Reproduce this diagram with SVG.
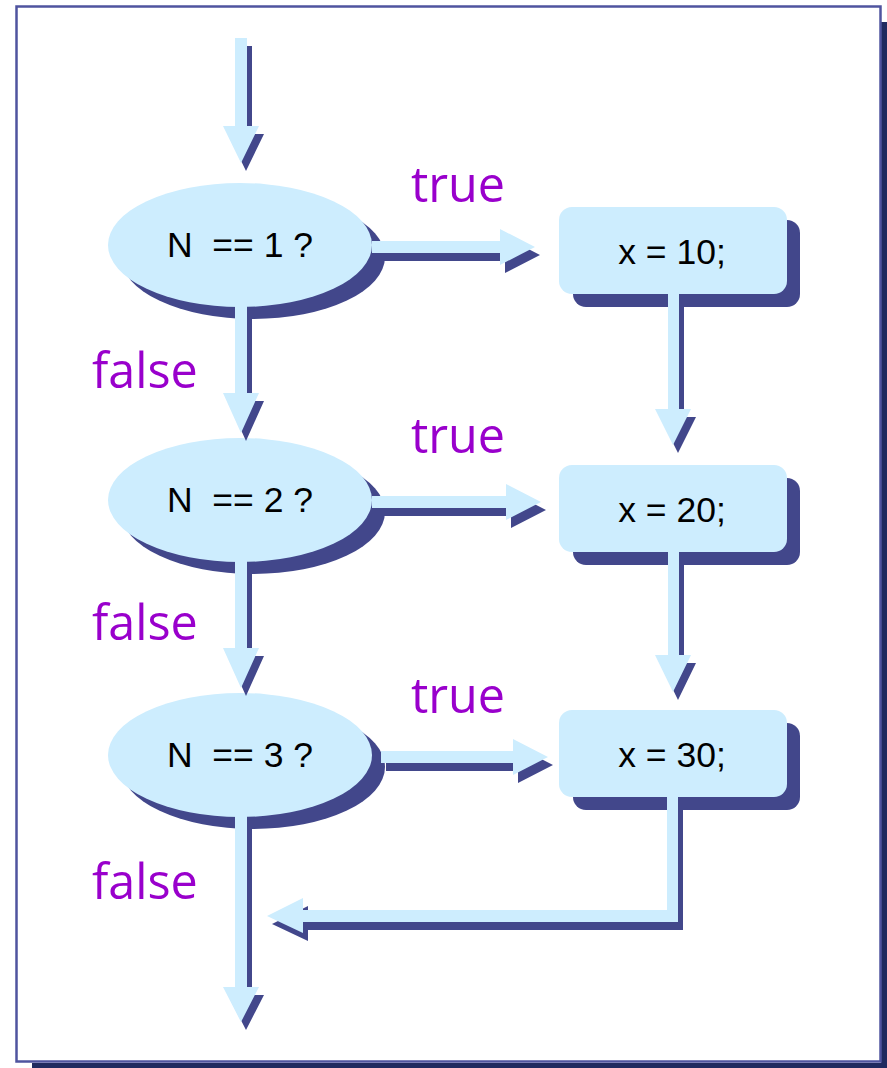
<svg xmlns="http://www.w3.org/2000/svg" xmlns:xlink="http://www.w3.org/1999/xlink" width="887" height="1068" viewBox="0 0 887 1068">
  <style>
    .lt { fill: #cdedfe; }
    .dk { fill: #42478b; }
    .node-text { font-family: "Liberation Sans", Arial, sans-serif; font-size: 35.5px; fill: #000; text-anchor: middle; white-space: pre; }
    .lbl { font-family: "Open Sans", "Noto Sans", sans-serif; font-size: 48.5px; fill: #9900cc; }
  </style>
  <defs>
    <!-- arrow shapes; each is painted twice: dark copy offset as a drop shadow, light copy on top -->
    <polygon id="a-top" points="235,38 247,38 247,126 259,126 241,163 223,126 235,126"/>
    <polygon id="a-e12" points="235,306 247,306 247,393 259,393 241,433 223,393 235,393"/>
    <polygon id="a-e23" points="235,561 247,561 247,648 259,648 241,688 223,648 235,648"/>
    <polygon id="a-out" points="235,816 247,816 247,987 259,987 241,1022 223,987 235,987"/>
    <polygon id="a-b12" points="668,294 679,294 679,409 691,409 673,445 655,409 668,409"/>
    <polygon id="a-b23" points="668,552 679,552 679,655 691,655 673,692 655,655 668,655"/>
    <polygon id="a-h1" points="372,241 500,241 500,229 535,247 500,265 500,253 372,253"/>
    <polygon id="a-h2" points="372,496 506,496 506,484 541,502 506,520 506,508 372,508"/>
    <polygon id="a-h3" points="381,751 513,751 513,739 548,757 513,775 513,763 381,763"/>
    <polygon id="a-back" points="667,797 678,797 678,922 303,922 303,933 267,916 303,898 303,910 667,910"/>
  </defs>

  <!-- page frame with drop shadow -->
  <g id="frame">
    <rect x="881" y="22" width="6" height="1046" fill="#1f2a5f"/>
    <rect x="32" y="1063" width="855" height="5" fill="#1f2a5f"/>
    <rect x="16.5" y="6.5" width="864" height="1055" fill="#ffffff" stroke="#4f549f" stroke-width="2.5"/>
  </g>

  <!-- decisions -->
  <g id="decision1">
    <ellipse class="dk" cx="253" cy="257" rx="132" ry="62"/>
    <ellipse class="lt" cx="240" cy="245" rx="132" ry="62"/>
    <text class="node-text" x="240" y="257" xml:space="preserve">N  == 1 ?</text>
  </g>
  <g id="decision2">
    <ellipse class="dk" cx="253" cy="512" rx="132" ry="62"/>
    <ellipse class="lt" cx="240" cy="500" rx="132" ry="62"/>
    <text class="node-text" x="240" y="512" xml:space="preserve">N  == 2 ?</text>
  </g>
  <g id="decision3">
    <ellipse class="dk" cx="253" cy="767" rx="132" ry="62"/>
    <ellipse class="lt" cx="240" cy="755" rx="132" ry="62"/>
    <text class="node-text" x="240" y="767" xml:space="preserve">N  == 3 ?</text>
  </g>

  <!-- assignments -->
  <g id="assign10">
    <rect class="dk" x="573" y="220" width="227" height="87" rx="13"/>
    <rect class="lt" x="559" y="207" width="228" height="87" rx="13"/>
    <text class="node-text" x="672" y="264">x = 10;</text>
  </g>
  <g id="assign20">
    <rect class="dk" x="573" y="478" width="227" height="87" rx="13"/>
    <rect class="lt" x="559" y="465" width="228" height="87" rx="13"/>
    <text class="node-text" x="672" y="522">x = 20;</text>
  </g>
  <g id="assign30">
    <rect class="dk" x="573" y="723" width="227" height="87" rx="13"/>
    <rect class="lt" x="559" y="710" width="228" height="87" rx="13"/>
    <text class="node-text" x="672" y="767">x = 30;</text>
  </g>

  <!-- connectors -->
  <g id="connectors">
    <g class="dk" transform="translate(5,8)">
      <use xlink:href="#a-top"/>
      <use xlink:href="#a-e12"/>
      <use xlink:href="#a-e23"/>
      <use xlink:href="#a-out"/>
      <use xlink:href="#a-b12"/>
      <use xlink:href="#a-b23"/>
      <use xlink:href="#a-h1"/>
      <use xlink:href="#a-h2"/>
      <use xlink:href="#a-h3"/>
      <use xlink:href="#a-back"/>
    </g>
    <g class="lt">
      <use xlink:href="#a-top"/>
      <use xlink:href="#a-e12"/>
      <use xlink:href="#a-e23"/>
      <use xlink:href="#a-out"/>
      <use xlink:href="#a-b12"/>
      <use xlink:href="#a-b23"/>
      <use xlink:href="#a-h1"/>
      <use xlink:href="#a-h2"/>
      <use xlink:href="#a-h3"/>
      <use xlink:href="#a-back"/>
    </g>
  </g>

  <!-- branch labels -->
  <g id="labels">
    <text class="lbl" x="411" y="202">true</text>
    <text class="lbl" x="411" y="453">true</text>
    <text class="lbl" x="411" y="713">true</text>
    <text class="lbl" x="92" y="388">false</text>
    <text class="lbl" x="92" y="640">false</text>
    <text class="lbl" x="92" y="899">false</text>
  </g>
</svg>
